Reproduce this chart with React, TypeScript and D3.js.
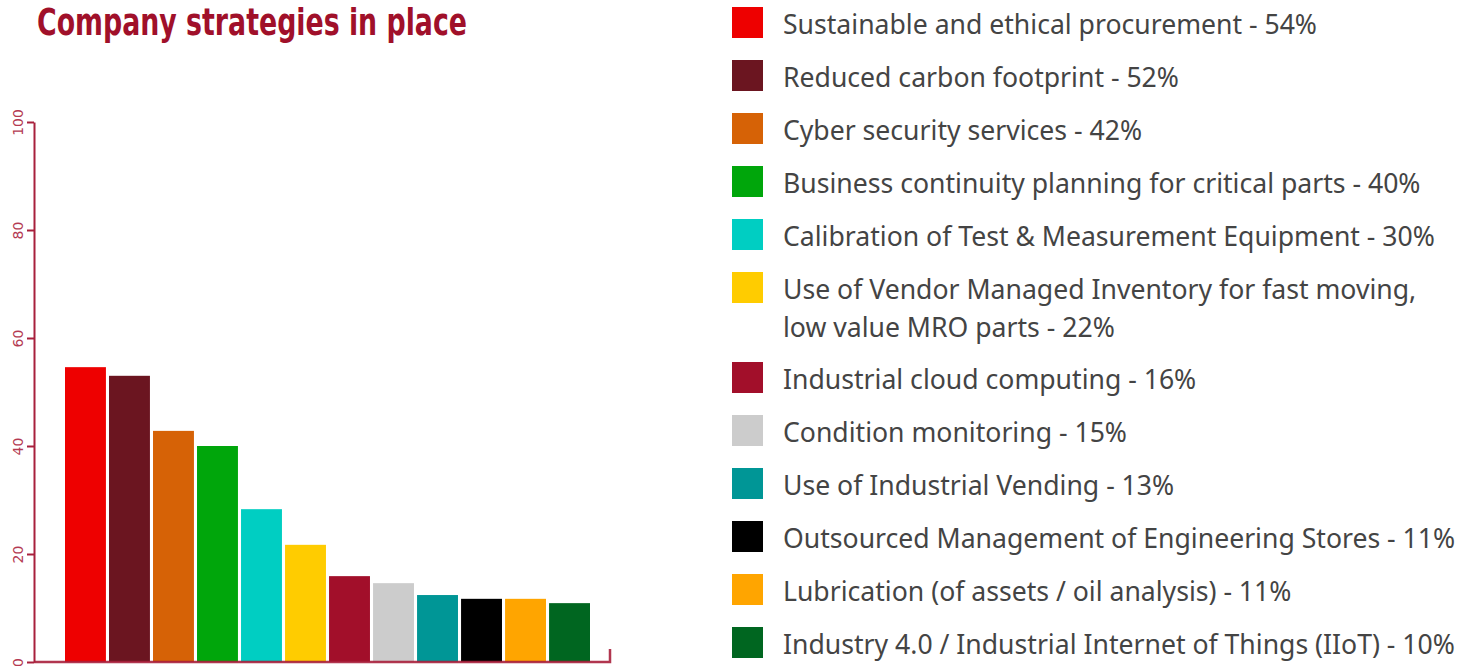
import React, { useEffect, useRef } from 'react';
import * as d3 from 'd3';

// chart data
const categories = [
  'Sustainable and ethical procurement',
  'Reduced carbon footprint',
  'Cyber security services',
  'Business continuity planning for critical parts',
  'Calibration of Test & Measurement Equipment',
  'Use of Vendor Managed Inventory for fast moving, low value MRO parts',
  'Industrial cloud computing',
  'Condition monitoring',
  'Use of Industrial Vending',
  'Outsourced Management of Engineering Stores',
  'Lubrication (of assets / oil analysis)',
  'Industry 4.0 / Industrial Internet of Things (IIoT)',
];
const barValues = [54.6, 53, 42.8, 40, 28.3, 21.7, 15.9, 14.6, 12.4, 11.7, 11.7, 10.9];
const legendPercents = [54, 52, 42, 40, 30, 22, 16, 15, 13, 11, 11, 10];
const colors = [
  '#ee0000', '#6b1520', '#d66206', '#00a60b', '#00cec2', '#ffcc00',
  '#a20f2a', '#cccccc', '#009696', '#000000', '#ffa500', '#006620',
];
const yTicks = [0, 20, 40, 60, 80, 100];

const W = 1476, H = 667;
const axisColor = '#a8203c';

export default function App() {
  const ref = useRef<SVGSVGElement>(null);

  useEffect(() => {
    const svg = d3.select(ref.current);
    svg.selectAll('*').remove();

    // title
    svg.append('text')
      .attr('x', 37).attr('y', 35)
      .attr('textLength', 430).attr('lengthAdjust', 'spacingAndGlyphs')
      .style('font-family', '"DejaVu Sans Condensed", "DejaVu Sans", sans-serif')
      .style('font-stretch', 'condensed')
      .style('font-weight', 'bold')
      .style('font-size', '37.5px')
      .attr('fill', '#a0102a')
      .text('Company strategies in place');

    const y = d3.scaleLinear().domain([0, 100]).range([662, 122]);
    const x = d3.scaleBand<string>().domain(categories).range([65, 590]).paddingInner(0.07);

    // bars
    svg.append('g').selectAll('rect')
      .data(categories)
      .join('rect')
      .attr('x', d => x(d)!)
      .attr('width', x.bandwidth())
      .attr('y', (d, i) => y(barValues[i]))
      .attr('height', (d, i) => y(0) - y(barValues[i]))
      .attr('fill', (d, i) => colors[i]);

    // y axis
    const yAxis = svg.append('g')
      .attr('transform', 'translate(34,0)')
      .call(d3.axisLeft(y).tickValues(yTicks).tickSize(7).tickSizeOuter(0).tickPadding(4));
    yAxis.select('.domain').attr('stroke', axisColor).attr('stroke-width', 2);
    yAxis.selectAll('.tick line').attr('stroke', axisColor).attr('stroke-width', 2);
    yAxis.selectAll('.tick text')
      .attr('transform', 'rotate(-90)')
      .attr('x', 0).attr('y', -11)
      .attr('dy', 0)
      .attr('text-anchor', 'middle')
      .attr('fill', '#b43a52')
      .style('font-family', '"DejaVu Sans", sans-serif')
      .style('font-size', '14px');

    // x axis baseline with right end tick
    svg.append('path')
      .attr('d', `M34,${y(0)}H610V${y(0) - 13}`)
      .attr('fill', 'none')
      .attr('stroke', axisColor)
      .attr('stroke-width', 2.5)
      .attr('opacity', 0.9);

    // legend
    const lx = 732, textX = 783, rowH = 53, lineH = 38, maxW = 690;
    let top = 7;
    const legend = svg.append('g')
      .style('font-family', '"Noto Sans", sans-serif')
      .style('font-size', '26.6px')
      .attr('fill', '#444444');
    categories.forEach((c, i) => {
      legend.append('rect')
        .attr('x', lx).attr('y', top).attr('width', 31).attr('height', 31)
        .attr('fill', colors[i]);
      const label = `${c} - ${legendPercents[i]}%`;
      const t = legend.append('text').attr('x', textX).attr('y', top + 27);
      const first = t.append('tspan').attr('x', textX).text(label);
      let lines = 1;
      // too wide: break after the comma
      if ((first.node() as SVGTSpanElement).getComputedTextLength() > maxW && label.includes(', ')) {
        const k = label.indexOf(', ') + 1;
        first.text(label.slice(0, k));
        t.append('tspan').attr('x', textX).attr('dy', lineH).text(label.slice(k + 1));
        lines = 2;
      }
      top += rowH + (lines - 1) * (lineH - 1);
    });
  }, []);

  return (
    <svg ref={ref} width={W} height={H}
      style={{ position: 'absolute', left: 0, top: 0, background: '#fff' }} />
  );
}
